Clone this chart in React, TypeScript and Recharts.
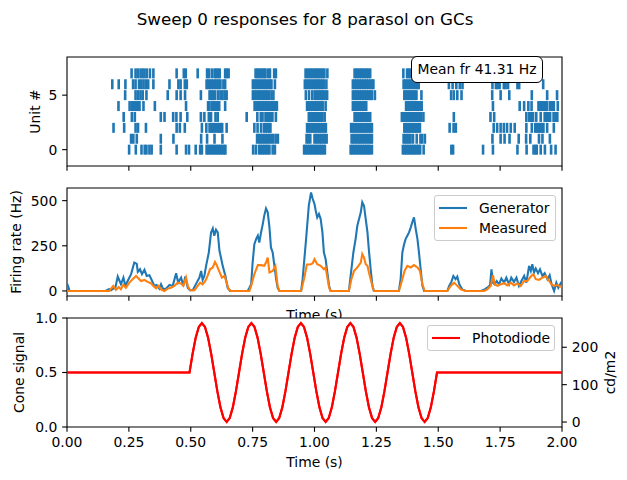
import React from 'react';
import { ScatterChart, Scatter, LineChart, Line, XAxis, YAxis, ReferenceArea } from 'recharts';

const FONT = '"DejaVu Sans", sans-serif';
const FS = 13.9;
const BLUE = '#1f77b4';
const ORANGE = '#ff7f0e';

// ---- axis ticks / domains ----
const timeTicks = [0, 0.25, 0.5, 0.75, 1, 1.25, 1.5, 1.75, 2];
const timeDomain: [number, number] = [0, 2];
const unitTicks = [0, 5];
const unitDomain: [number, number] = [-1.5, 8.5];
const rateTicks = [0, 250, 500];
const rateDomain: [number, number] = [-28, 570];
const coneTicks = [0, 0.5, 1];
const coneDomain: [number, number] = [0, 1];
const lumTicks = [0, 100, 200];
const lumDomain: [number, number] = [-13.25, 278.25];

// ---- spike times (s) per unit ----
const unit0Spikes = [0.251, 0.278, 0.301, 0.314, 0.321, 0.333, 0.342, 0.379, 0.443, 0.481, 0.493,
  0.520, 0.538, 0.545, 0.564, 0.571, 0.578, 0.585, 0.592, 0.599, 0.606, 0.613, 0.620, 0.627, 0.634, 0.640,
  0.752, 0.763, 0.776, 0.783, 0.790, 0.797, 0.804, 0.811, 0.818, 0.831, 0.840,
  0.958, 0.965, 0.972, 0.979, 0.986, 0.993, 1.000, 1.007, 1.014, 1.021, 1.028, 1.035, 1.042,
  1.146, 1.153, 1.160, 1.167, 1.174, 1.181, 1.188, 1.195, 1.202, 1.209, 1.216, 1.223, 1.232,
  1.357, 1.364, 1.371, 1.378, 1.385, 1.392, 1.399, 1.406, 1.413, 1.420, 1.427, 1.441,
  1.553, 1.560, 1.681, 1.721, 1.820, 1.857, 1.885, 1.893, 1.898, 1.914, 1.931, 1.956, 1.974];
const unit1Spikes = [0.259, 0.268, 0.282, 0.379, 0.430,
  0.542, 0.566, 0.596, 0.628,
  0.768, 0.775, 0.782, 0.789, 0.796, 0.803, 0.810, 0.817, 0.824, 0.833, 0.843, 0.852,
  0.968, 0.975, 0.983, 1.000, 1.007, 1.014, 1.021, 1.028, 1.035, 1.042, 1.049,
  1.150, 1.157, 1.164, 1.171, 1.178, 1.185, 1.192, 1.199, 1.206, 1.213, 1.220, 1.227, 1.232,
  1.360, 1.367, 1.374, 1.381, 1.388, 1.398, 1.413, 1.428, 1.435, 1.446,
  1.719, 1.752, 1.768, 1.788, 1.825, 1.855, 1.872, 1.907, 1.921, 1.951];
const unit2Spikes = [0.188, 0.231, 0.277, 0.287, 0.319, 0.443, 0.456, 0.476,
  0.545, 0.563, 0.576, 0.583, 0.590, 0.597, 0.607, 0.614, 0.621, 0.627, 0.645,
  0.757, 0.770, 0.784, 0.796, 0.803, 0.810, 0.817, 0.822,
  0.970, 0.977, 0.984, 0.991, 0.998, 1.004, 1.011, 1.018, 1.025, 1.032, 1.039, 1.046,
  1.148, 1.155, 1.162, 1.169, 1.176, 1.183, 1.190, 1.197, 1.204, 1.211, 1.218, 1.225, 1.232,
  1.363, 1.370, 1.377, 1.384, 1.391, 1.398, 1.405, 1.412, 1.419, 1.426,
  1.546, 1.562, 1.571, 1.724, 1.738, 1.752, 1.765, 1.778, 1.793, 1.809, 1.856, 1.878,
  1.892, 1.899, 1.906, 1.913, 1.920, 1.925, 1.940, 1.967];
const unit3Spikes = [0.229, 0.262, 0.274, 0.379, 0.394, 0.429, 0.442, 0.459, 0.486,
  0.541, 0.555, 0.573, 0.582, 0.600, 0.609, 0.726, 0.769, 0.783, 0.790, 0.802, 0.809, 0.816, 0.823, 0.830, 0.844,
  0.977, 0.984, 0.991, 0.998, 1.004, 1.011, 1.018, 1.025, 1.032, 1.041,
  1.162, 1.169, 1.176, 1.183, 1.190, 1.197, 1.204, 1.211, 1.218, 1.225,
  1.353, 1.360, 1.367, 1.374, 1.381, 1.388, 1.395, 1.402, 1.409, 1.416, 1.423, 1.430, 1.440,
  1.563, 1.711, 1.726, 1.856, 1.868, 1.875, 1.883, 1.896, 1.914, 1.930, 1.937, 1.944, 1.952, 1.966, 1.974, 1.981];
const unit4Spikes = [0.208, 0.253, 0.263, 0.271, 0.279, 0.287, 0.293, 0.309, 0.355, 0.481,
  0.570, 0.576, 0.587, 0.594, 0.601, 0.608, 0.615, 0.639,
  0.758, 0.765, 0.772, 0.779, 0.786, 0.793, 0.800, 0.807, 0.814, 0.821, 0.828, 0.835, 0.842, 0.848,
  0.970, 0.977, 0.984, 0.991, 0.998, 1.004, 1.011, 1.018, 1.025, 1.033, 1.045,
  1.155, 1.162, 1.169, 1.176, 1.183, 1.190, 1.197, 1.204, 1.209,
  1.370, 1.377, 1.384, 1.391, 1.398, 1.405, 1.412, 1.419, 1.426, 1.433,
  1.721, 1.829, 1.847, 1.864, 1.877, 1.905, 1.912, 1.919, 1.926, 1.933, 1.940, 1.952, 1.960, 1.967, 1.983];
const unit5Spikes = [0.235, 0.277, 0.287, 0.297, 0.306, 0.321, 0.407, 0.443, 0.459, 0.477,
  0.541, 0.576, 0.583, 0.590, 0.598, 0.610, 0.620, 0.628, 0.637, 0.645,
  0.751, 0.759, 0.768, 0.775, 0.782, 0.789, 0.796, 0.803, 0.810, 0.816, 0.826, 0.834,
  0.965, 0.978, 0.991, 1.001, 1.008, 1.015, 1.022, 1.029, 1.034, 1.043, 1.051,
  1.155, 1.162, 1.169, 1.176, 1.183, 1.190, 1.197, 1.204, 1.211, 1.218, 1.225, 1.232, 1.244,
  1.363, 1.370, 1.377, 1.384, 1.391, 1.398, 1.405, 1.412, 1.432,
  1.552, 1.563, 1.577, 1.594, 1.718, 1.752, 1.787, 1.878, 1.940, 1.980];
const unit6Spikes = [0.183, 0.209, 0.236, 0.267, 0.277, 0.291, 0.300, 0.309, 0.318, 0.328, 0.349, 0.414, 0.450, 0.459, 0.476, 0.484,
  0.564, 0.571, 0.578, 0.585, 0.592, 0.599, 0.606, 0.613, 0.620, 0.632, 0.639,
  0.751, 0.758, 0.765, 0.772, 0.779, 0.786, 0.793, 0.800, 0.807, 0.814, 0.821, 0.826, 0.840,
  0.961, 0.968, 0.975, 0.982, 0.989, 0.996, 1.003, 1.010, 1.017, 1.024, 1.031, 1.038, 1.048,
  1.155, 1.162, 1.169, 1.176, 1.183, 1.190, 1.197, 1.204, 1.211, 1.218, 1.225, 1.232, 1.238,
  1.360, 1.367, 1.374, 1.381, 1.388, 1.395, 1.402, 1.409, 1.416, 1.421,
  1.543, 1.558, 1.573, 1.587, 1.598, 1.719, 1.733, 1.740, 1.748, 1.765, 1.772, 1.782, 1.820, 1.827, 1.924];
const unit7Spikes = [0.261, 0.277, 0.286, 0.297, 0.305, 0.313, 0.322, 0.335, 0.349, 0.443, 0.472, 0.480,
  0.528, 0.566, 0.573, 0.585, 0.596, 0.603, 0.610, 0.617, 0.639, 0.646, 0.653,
  0.762, 0.769, 0.776, 0.783, 0.790, 0.797, 0.802, 0.813, 0.820, 0.837, 0.844,
  0.964, 0.971, 0.978, 0.985, 0.992, 0.999, 1.006, 1.012, 1.019, 1.026, 1.033, 1.040, 1.052,
  1.162, 1.169, 1.176, 1.183, 1.190, 1.197, 1.204, 1.211, 1.218, 1.225,
  1.359, 1.374, 1.381, 1.388, 1.395, 1.402, 1.410,
  1.560, 1.600, 1.730, 1.760, 1.850, 1.900];

const unitSpikes = [unit0Spikes, unit1Spikes, unit2Spikes, unit3Spikes, unit4Spikes, unit5Spikes, unit6Spikes, unit7Spikes];

// ---- firing rates [time s, Hz] ----
const generatorRate: [number, number][] = [
  [0, 40], [0.005, 25], [0.01, 0], [0.157, 0], [0.163, 6], [0.17, 10], [0.178, 4], [0.186, 12], [0.195, 15],
  [0.205, 80], [0.218, 37], [0.228, 74], [0.236, 28], [0.245, 55], [0.259, 93], [0.272, 157], [0.282, 150],
  [0.286, 106], [0.295, 120], [0.303, 93], [0.313, 117], [0.322, 83], [0.333, 87], [0.344, 55], [0.353, 28],
  [0.362, 33], [0.373, 13], [0.380, 37], [0.389, 9], [0.400, 13], [0.414, 33], [0.427, 28], [0.441, 98],
  [0.449, 46], [0.461, 74], [0.470, 28], [0.478, 80], [0.488, 18], [0.497, 4], [0.508, 4], [0.524, 46],
  [0.535, 74], [0.542, 111], [0.548, 61], [0.555, 83], [0.562, 139], [0.573, 213], [0.582, 324], [0.589, 346],
  [0.595, 306], [0.602, 339], [0.609, 324], [0.616, 222], [0.622, 185], [0.629, 139], [0.640, 83], [0.649, 18],
  [0.659, 0], [0.730, 0], [0.737, 18], [0.744, 37], [0.750, 157], [0.757, 259], [0.764, 287], [0.771, 306],
  [0.777, 268], [0.784, 324], [0.791, 370], [0.797, 417], [0.804, 457], [0.811, 435], [0.818, 352], [0.824, 241],
  [0.831, 213], [0.838, 139], [0.845, 65], [0.851, 18], [0.858, 0], [0.946, 0], [0.952, 65], [0.966, 287],
  [0.977, 472], [0.986, 545], [0.993, 509], [1.000, 481], [1.005, 444], [1.011, 407], [1.018, 426], [1.025, 398],
  [1.032, 324], [1.038, 213], [1.045, 176], [1.052, 102], [1.059, 28], [1.065, 0], [1.139, 0], [1.146, 83],
  [1.157, 213], [1.166, 287], [1.173, 361], [1.180, 398], [1.187, 435], [1.193, 491], [1.200, 472], [1.207, 398],
  [1.214, 324], [1.220, 222], [1.227, 120], [1.234, 28], [1.240, 0], [1.341, 0], [1.348, 65], [1.355, 213],
  [1.362, 259], [1.368, 287], [1.375, 306], [1.382, 324], [1.389, 352], [1.395, 380], [1.402, 407], [1.409, 343],
  [1.416, 287], [1.422, 213], [1.429, 120], [1.436, 28], [1.443, 0], [1.537, 0], [1.544, 28], [1.553, 50],
  [1.561, 83], [1.570, 65], [1.577, 80], [1.585, 37], [1.597, 9], [1.611, 0], [1.672, 0], [1.685, 6],
  [1.698, 18], [1.709, 31], [1.715, 120], [1.721, 46], [1.728, 37], [1.736, 55], [1.746, 37], [1.755, 69],
  [1.766, 46], [1.775, 74], [1.786, 37], [1.795, 74], [1.806, 50], [1.816, 74], [1.826, 28], [1.836, 55],
  [1.847, 83], [1.856, 46], [1.867, 139], [1.874, 111], [1.880, 148], [1.887, 102], [1.894, 124], [1.903, 98],
  [1.911, 120], [1.921, 83], [1.930, 98], [1.941, 65], [1.950, 87], [1.958, 37], [1.968, 0], [1.977, 46],
  [1.985, 18], [1.995, 43], [2.0, 35]];

const measuredRate: [number, number][] = [
  [0, 0], [0.171, 0], [0.178, 13], [0.187, 28], [0.198, 6], [0.209, 22], [0.218, 9], [0.228, 35], [0.238, 18],
  [0.252, 46], [0.265, 65], [0.279, 83], [0.290, 68], [0.299, 55], [0.313, 61], [0.326, 50], [0.339, 43],
  [0.349, 28], [0.360, 15], [0.370, 28], [0.380, 9], [0.393, 0], [0.407, 13], [0.420, 18], [0.434, 28],
  [0.447, 46], [0.461, 41], [0.470, 28], [0.481, 74], [0.488, 28], [0.497, 4], [0.515, 4], [0.528, 28],
  [0.538, 46], [0.548, 37], [0.559, 55], [0.568, 83], [0.578, 120], [0.589, 130], [0.598, 161], [0.605, 143],
  [0.616, 106], [0.626, 74], [0.636, 83], [0.643, 55], [0.653, 9], [0.663, 0], [0.737, 0], [0.744, 28],
  [0.757, 93], [0.771, 143], [0.784, 143], [0.797, 139], [0.804, 157], [0.811, 185], [0.818, 102], [0.831, 111],
  [0.842, 139], [0.851, 28], [0.858, 0], [0.946, 0], [0.959, 74], [0.969, 146], [0.982, 146], [0.993, 154],
  [1.000, 176], [1.011, 148], [1.025, 139], [1.038, 120], [1.045, 130], [1.052, 74], [1.059, 18], [1.065, 0],
  [1.139, 0], [1.149, 65], [1.160, 111], [1.173, 130], [1.187, 157], [1.193, 204], [1.200, 185], [1.207, 148],
  [1.214, 139], [1.220, 102], [1.234, 28], [1.240, 0], [1.341, 0], [1.351, 46], [1.364, 111], [1.375, 139],
  [1.389, 130], [1.402, 143], [1.416, 130], [1.426, 111], [1.436, 37], [1.445, 0], [1.537, 0], [1.550, 28],
  [1.564, 46], [1.577, 28], [1.591, 9], [1.611, 0], [1.685, 0], [1.698, 9], [1.712, 28], [1.721, 87],
  [1.728, 37], [1.739, 28], [1.752, 37], [1.766, 43], [1.779, 31], [1.793, 46], [1.806, 31], [1.820, 43],
  [1.833, 28], [1.847, 55], [1.860, 55], [1.874, 80], [1.884, 93], [1.894, 65], [1.907, 61], [1.921, 74],
  [1.934, 83], [1.948, 55], [1.957, 37], [1.968, 28], [1.981, 33], [1.995, 24], [2.0, 28]];

// ---- cone signal (0..1) [time s, value] ----
const coneSignal: [number, number][] = [
  [0, 0.5], [0.495, 0.5],
  [0.5075, 0.672], [0.52, 0.818], [0.5325, 0.916], [0.545, 0.95], [0.5575, 0.916], [0.57, 0.818], [0.5825, 0.672], [0.595, 0.5],
  [0.6075, 0.328], [0.62, 0.182], [0.6325, 0.084], [0.645, 0.05], [0.6575, 0.084], [0.67, 0.182], [0.6825, 0.328], [0.695, 0.5],
  [0.7075, 0.672], [0.72, 0.818], [0.7325, 0.916], [0.745, 0.95], [0.7575, 0.916], [0.77, 0.818], [0.7825, 0.672], [0.795, 0.5],
  [0.8075, 0.328], [0.82, 0.182], [0.8325, 0.084], [0.845, 0.05], [0.8575, 0.084], [0.87, 0.182], [0.8825, 0.328], [0.895, 0.5],
  [0.9075, 0.672], [0.92, 0.818], [0.9325, 0.916], [0.945, 0.95], [0.9575, 0.916], [0.97, 0.818], [0.9825, 0.672], [0.995, 0.5],
  [1.0075, 0.328], [1.02, 0.182], [1.0325, 0.084], [1.045, 0.05], [1.0575, 0.084], [1.07, 0.182], [1.0825, 0.328], [1.095, 0.5],
  [1.1075, 0.672], [1.12, 0.818], [1.1325, 0.916], [1.145, 0.95], [1.1575, 0.916], [1.17, 0.818], [1.1825, 0.672], [1.195, 0.5],
  [1.2075, 0.328], [1.22, 0.182], [1.2325, 0.084], [1.245, 0.05], [1.2575, 0.084], [1.27, 0.182], [1.2825, 0.328], [1.295, 0.5],
  [1.3075, 0.672], [1.32, 0.818], [1.3325, 0.916], [1.345, 0.95], [1.3575, 0.916], [1.37, 0.818], [1.3825, 0.672], [1.395, 0.5],
  [1.4075, 0.328], [1.42, 0.182], [1.4325, 0.084], [1.445, 0.05], [1.4575, 0.084], [1.47, 0.182], [1.4825, 0.328], [1.495, 0.5],
  [2.0, 0.5]];

// ---- photodiode luminance [time s, cd/m2] ----
const photodiode: [number, number][] = [
  [0, 132.5], [0.495, 132.5],
  [0.5075, 183], [0.52, 226], [0.5325, 255], [0.545, 265], [0.5575, 255], [0.57, 226], [0.5825, 183], [0.595, 132.5],
  [0.6075, 82], [0.62, 39], [0.6325, 10], [0.645, 0], [0.6575, 10], [0.67, 39], [0.6825, 82], [0.695, 132.5],
  [0.7075, 183], [0.72, 226], [0.7325, 255], [0.745, 265], [0.7575, 255], [0.77, 226], [0.7825, 183], [0.795, 132.5],
  [0.8075, 82], [0.82, 39], [0.8325, 10], [0.845, 0], [0.8575, 10], [0.87, 39], [0.8825, 82], [0.895, 132.5],
  [0.9075, 183], [0.92, 226], [0.9325, 255], [0.945, 265], [0.9575, 255], [0.97, 226], [0.9825, 183], [0.995, 132.5],
  [1.0075, 82], [1.02, 39], [1.0325, 10], [1.045, 0], [1.0575, 10], [1.07, 39], [1.0825, 82], [1.095, 132.5],
  [1.1075, 183], [1.12, 226], [1.1325, 255], [1.145, 265], [1.1575, 255], [1.17, 226], [1.1825, 183], [1.195, 132.5],
  [1.2075, 82], [1.22, 39], [1.2325, 10], [1.245, 0], [1.2575, 10], [1.27, 39], [1.2825, 82], [1.295, 132.5],
  [1.3075, 183], [1.32, 226], [1.3325, 255], [1.345, 265], [1.3575, 255], [1.37, 226], [1.3825, 183], [1.395, 132.5],
  [1.4075, 82], [1.42, 39], [1.4325, 10], [1.445, 0], [1.4575, 10], [1.47, 39], [1.4825, 82], [1.495, 132.5],
  [2.0, 132.5]];

const rasterData = unitSpikes.flatMap((arr, unit) => arr.map((t) => ({ t, unit })));
const generatorData = generatorRate.map(([t, v]) => ({ t, v }));
const measuredData = measuredRate.map(([t, v]) => ({ t, v }));
const coneData = coneSignal.map(([t, v]) => ({ t, v }));
const photodiodeData = photodiode.map(([t, v]) => ({ t, v }));

const tickStyle = { fill: '#000', fontSize: FS, fontFamily: FONT };
const tickLineStyle = { stroke: '#000', strokeWidth: 1.1 };

const SpikeShape = (props: any) => {
  const { cx, cy } = props;
  if (cx == null || cy == null) return null;
  return <line x1={cx} x2={cx} y1={cy - 5} y2={cy + 5} stroke={BLUE} strokeWidth={2.6} />;
};

const yLabel = (text: string, x: number, fallbackCy: number) => (p: any) => {
  const vb = p && p.viewBox;
  const cy = vb && typeof vb.y === 'number' ? vb.y + vb.height / 2 : fallbackCy;
  return (
    <text x={x} y={cy} transform={`rotate(-90 ${x} ${cy})`} textAnchor="middle" dominantBaseline="central"
      fontSize={FS} fontFamily={FONT} fill="#000">{text}</text>
  );
};

const xLabel = (text: string, dy: number, fallbackY: number) => (p: any) => {
  const vb = p && p.viewBox;
  const cx = vb && typeof vb.x === 'number' ? vb.x + vb.width / 2 : 314.5;
  const y = vb && typeof vb.y === 'number' ? vb.y + dy : fallbackY;
  return <text x={cx} y={y} textAnchor="middle" fontSize={FS} fontFamily={FONT} fill="#000">{text}</text>;
};

const LegendBox = ({ left, top, width, items }: { left: number; top: number; width: number; items: { label: string; color: string }[] }) => (
  <div style={{
    position: 'absolute', left, top, width, boxSizing: 'border-box', border: '1px solid #cccccc', borderRadius: 3,
    background: 'rgba(255,255,255,0.8)', padding: '2px 0', fontFamily: FONT, fontSize: FS,
  }}>
    {items.map((it) => (
      <div key={it.label} style={{ display: 'flex', alignItems: 'center', height: 20 }}>
        <svg width={44} height={20} style={{ display: 'block' }}>
          <line x1={4} x2={32} y1={10} y2={10} stroke={it.color} strokeWidth={2.08} />
        </svg>
        <span style={{ whiteSpace: 'nowrap', lineHeight: '20px' }}>{it.label}</span>
      </div>
    ))}
  </div>
);

export default function App() {
  return (
    <div style={{ position: 'absolute', left: 0, top: 0, width: 627, height: 480, background: '#fff', fontFamily: FONT, overflow: 'hidden' }}>
      <div style={{ position: 'absolute', left: 0, top: 9, width: 610, textAlign: 'center', fontSize: 16.7, color: '#000' }}>
        Sweep 0 responses for 8 parasol on GCs
      </div>

      {/* Raster */}
      <div style={{ position: 'absolute', left: 0, top: 0, width: 627, height: 180 }}>
        <ScatterChart width={627} height={180} margin={{ top: 57, right: 65, bottom: 0, left: 0 }}>
          <XAxis type="number" dataKey="t" domain={timeDomain} ticks={timeTicks} tickFormatter={() => ''}
            height={14} tickSize={4.86} axisLine={false} tickLine={tickLineStyle} allowDataOverflow />
          <YAxis type="number" dataKey="unit" domain={unitDomain} ticks={unitTicks} width={67} tickSize={4.86}
            tickMargin={4.86} axisLine={false} tickLine={tickLineStyle} tick={tickStyle} allowDataOverflow
            label={yLabel('Unit #', 35, 111.5)} />
          <Scatter data={rasterData} shape={SpikeShape} isAnimationActive={false} />
          <ReferenceArea x1={timeDomain[0]} x2={timeDomain[1]} y1={unitDomain[0]} y2={unitDomain[1]}
            fill="none" stroke="#000" strokeWidth={1.1} ifOverflow="visible" />
        </ScatterChart>
      </div>

      {/* Firing rate */}
      <div style={{ position: 'absolute', left: 0, top: 180, width: 627, height: 150 }}>
        <LineChart width={627} height={150} margin={{ top: 8, right: 65, bottom: 0, left: 0 }}>
          <XAxis type="number" dataKey="t" domain={timeDomain} ticks={timeTicks} tickFormatter={() => ''}
            height={34} tickSize={4.86} axisLine={false} tickLine={tickLineStyle} allowDataOverflow
            label={xLabel('Time (s)', 24, 140)} />
          <YAxis type="number" domain={rateDomain} ticks={rateTicks} width={67} tickSize={4.86} tickMargin={4.86}
            axisLine={false} tickLine={tickLineStyle} tick={tickStyle} allowDataOverflow
            label={yLabel('Firing rate (Hz)', 16, 62)} />
          <Line data={generatorData} dataKey="v" type="linear" stroke={BLUE} strokeWidth={2.08} dot={false}
            isAnimationActive={false} name="Generator" />
          <Line data={measuredData} dataKey="v" type="linear" stroke={ORANGE} strokeWidth={2.08} dot={false}
            isAnimationActive={false} name="Measured" />
          <ReferenceArea x1={timeDomain[0]} x2={timeDomain[1]} y1={rateDomain[0]} y2={rateDomain[1]}
            fill="none" stroke="#000" strokeWidth={1.1} ifOverflow="visible" />
        </LineChart>
      </div>

      {/* white backdrop of the bottom axes (hides the overlapping part of the middle x label) */}
      <div style={{ position: 'absolute', left: 0, top: 318, width: 627, height: 162, background: '#fff' }} />

      {/* Cone signal / photodiode */}
      <div style={{ position: 'absolute', left: 0, top: 300, width: 627, height: 180 }}>
        <LineChart width={627} height={180} margin={{ top: 18, right: 0, bottom: 8, left: 0 }}>
          <XAxis type="number" dataKey="t" domain={timeDomain} ticks={timeTicks} tickFormatter={(v: number) => v.toFixed(2)}
            height={45} tickSize={4.86} tickMargin={4.86} axisLine={false} tickLine={tickLineStyle} tick={tickStyle}
            allowDataOverflow label={xLabel('Time (s)', 40, 167)} />
          <YAxis yAxisId="left" type="number" domain={coneDomain} ticks={coneTicks} tickFormatter={(v: number) => v.toFixed(1)}
            width={67} tickSize={4.86} tickMargin={4.86} axisLine={false} tickLine={tickLineStyle} tick={tickStyle}
            allowDataOverflow label={yLabel('Cone signal', 19, 72.5)} />
          <YAxis yAxisId="right" orientation="right" type="number" domain={lumDomain} ticks={lumTicks}
            width={65} tickSize={4.86} tickMargin={4.86} axisLine={false} tickLine={tickLineStyle} tick={tickStyle}
            allowDataOverflow label={yLabel('cd/m2', 610, 72.5)} />
          <Line yAxisId="left" data={coneData} dataKey="v" type="linear" stroke="#ff0000" strokeWidth={2.08}
            dot={false} isAnimationActive={false} name="Cone signal" />
          <Line yAxisId="right" data={photodiodeData} dataKey="v" type="linear" stroke="#ff0000" strokeWidth={2.08}
            dot={false} isAnimationActive={false} name="Photodiode" />
          <ReferenceArea yAxisId="right" x1={timeDomain[0]} x2={timeDomain[1]} y1={lumDomain[0]} y2={lumDomain[1]}
            fill="none" stroke="#000" strokeWidth={1.1} ifOverflow="visible" />
        </LineChart>
      </div>

      <div style={{
        position: 'absolute', left: 411, top: 56, width: 132, height: 27, boxSizing: 'border-box',
        border: '1px solid #000', borderRadius: 6, background: '#fff', fontSize: FS, lineHeight: '25px',
        textAlign: 'center', color: '#000', whiteSpace: 'nowrap',
      }}>
        Mean fr 41.31 Hz
      </div>

      <LegendBox left={434} top={195} width={122} items={[{ label: 'Generator', color: BLUE }, { label: 'Measured', color: ORANGE }]} />
      <LegendBox left={427} top={325} width={128} items={[{ label: 'Photodiode', color: '#ff0000' }]} />
    </div>
  );
}
